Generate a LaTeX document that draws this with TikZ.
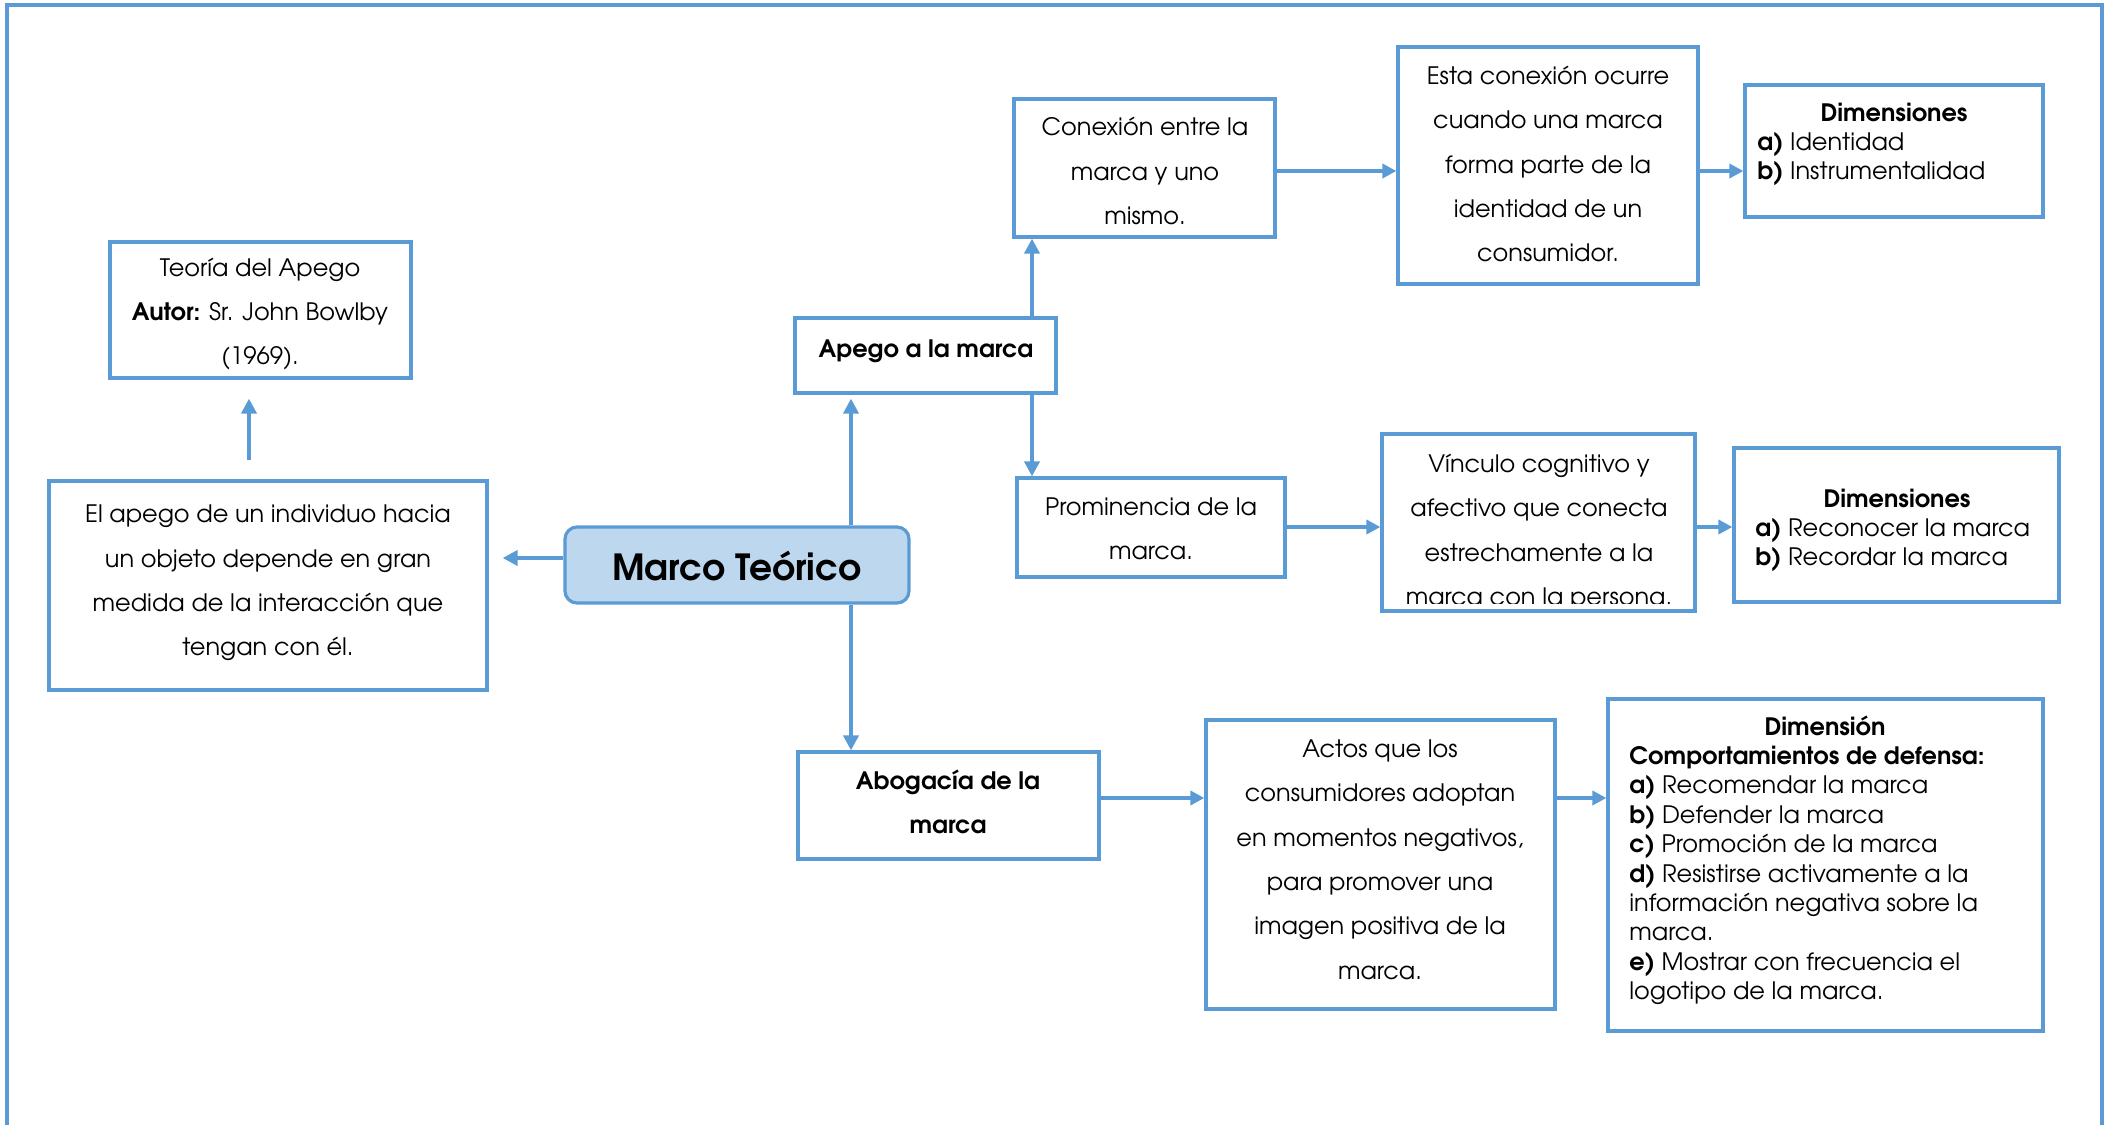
\documentclass[tikz,border=0pt]{standalone}
\usepackage{fontspec}
\setmainfont{texgyreadventor-regular.otf}[BoldFont=texgyreadventor-bold.otf,ItalicFont=texgyreadventor-italic.otf,BoldItalicFont=texgyreadventor-bolditalic.otf]
\usetikzlibrary{arrows.meta,fit}
\definecolor{bl}{HTML}{5B9BD5}
\definecolor{blfill}{HTML}{BDD7EE}
\begin{document}
\begin{tikzpicture}[x=0.5pt,y=-0.5pt,
  box/.style={draw=bl, line width=1.6pt, inner sep=0pt, rectangle},
  txt/.style={align=center, font=\fontsize{12}{22.2}\selectfont, inner sep=0pt},
  lst/.style={anchor=base west, inner sep=0pt, font=\fontsize{12}{14.7}\selectfont},
  ttl/.style={anchor=base, inner sep=0pt, font=\fontsize{12}{14.7}\selectfont\bfseries},
  arr/.style={draw=bl, line width=1.85pt, -{Triangle[length=7.5pt,width=7.5pt]}},
  harr/.style={draw=bl, line width=2.35pt, -{Triangle[length=7pt,width=7pt]}}]
\useasboundingbox (0,0) rectangle (2114,1125);
% outer frame
\draw[bl, line width=2pt] (7,1125) -- (7,5) -- (2102,5) -- (2102,1125);

% boxes
\node[box, fit={(110,242) (411,378)}] (teoria) {};
\node[box, fit={(49,481) (487,690)}] (apegoind) {};
\node[box, fill=blfill, rounded corners=6pt, fit={(565,527) (909,603)}] (marco) {};
\node[box, fit={(795,318) (1056,393)}] (apego) {};
\node[box, fit={(1014,99) (1275,237)}] (conexion) {};
\node[box, fit={(1398,47) (1698,284)}] (esta) {};
\node[box, fit={(1745,85) (2043,217)}] (dim1) {};
\node[box, fit={(1017,478) (1285,577)}] (promin) {};
\node[box, fit={(1382,434) (1695,611)}] (vinculo) {};
\node[box, fit={(1734,448) (2059,602)}] (dim2) {};
\node[box, fit={(798,752) (1099,859)}] (aboga) {};
\node[box, fit={(1206,720) (1555,1009)}] (actos) {};
\node[box, fit={(1608,699) (2043,1031)}] (dim3) {};

% texts
\node[txt] (teoriaT) at (260,314) {Teoría del Apego\\\textbf{Autor:} Sr. John Bowlby\\(1969).};
\node[txt] (apegoindT) at (268,583) {El apego de un individuo hacia\\un objeto depende en gran\\medida de la interacción que\\tengan con él.};
\node[inner sep=0pt, font=\fontsize{18}{22}\selectfont\bfseries] (marcoT) at (737,566) {Marco Teórico};
\node[txt, font=\fontsize{12}{22.2}\selectfont\bfseries] (apegoT) at (926,351) {Apego a la marca};
\node[txt] (conexionT) at (1145,171) {Conexión entre la\\marca y uno\\mismo.};
\node[txt] (estaT) at (1548,164) {Esta conexión ocurre\\cuando una marca\\forma parte de la\\identidad de un\\consumidor.};
\node[ttl] (dim1H) at (1894,121) {Dimensiones};
\node[lst] (dim1L) at (1757,150.5) {\parbox[t]{140pt}{\raggedright\textbf{a)} Identidad\\\textbf{b)} Instrumentalidad}};
\node[txt] (prominT) at (1151,529) {Prominencia de la\\marca.};
\begin{scope}
\clip (1382,434) rectangle (1695,603);
\node[txt] (vinculoT) at (1539,532) {Vínculo cognitivo y\\afectivo que conecta\\estrechamente a la\\marca con la persona.};
\end{scope}
\node[ttl] (dim2H) at (1897,507) {Dimensiones};
\node[lst] (dim2L) at (1755,536) {\parbox[t]{150pt}{\raggedright\textbf{a)} Reconocer la marca\\\textbf{b)} Recordar la marca}};
\node[txt, font=\fontsize{12}{22.2}\selectfont\bfseries] (abogaT) at (948,802) {Abogacía de la\\marca};
\node[txt] (actosT) at (1380,859.5) {Actos que los\\consumidores adoptan\\en momentos negativos,\\para promover una\\imagen positiva de la\\marca.};
\node[ttl] (dim3H) at (1825,735) {Dimensión};
\node[lst] (dim3L) at (1629,764.5) {\parbox[t]{200pt}{\raggedright\textbf{Comportamientos de defensa:}\\\textbf{a)} Recomendar la marca\\\textbf{b)} Defender la marca\\\textbf{c)} Promoción de la marca\\\textbf{d)} Resistirse activamente a la\\información negativa sobre la\\marca.\\\textbf{e)} Mostrar con frecuencia el\\logotipo de la marca.}};

% connectors
\draw[arr, shorten <=9.5pt, shorten >=9.5pt] (apegoind.north -| 249,0) -- (teoria.south -| 249,0);
\draw[arr, shorten >=7pt] (marco.west |- 0,558) -- (apegoind.east |- 0,558);
\draw[arr, shorten >=2pt] (marco.north -| 851,0) -- (apego.south -| 851,0);
\draw[arr] (marco.south -| 851,0) -- (aboga.north -| 851,0);
\draw[arr] (apego.north -| 1032,0) -- (conexion.south -| 1032,0);
\draw[arr] (apego.south -| 1032,0) -- (promin.north -| 1032,0);
\draw[harr] (conexion.east |- 0,171) -- (esta.west |- 0,171);
\draw[harr] (esta.east |- 0,171) -- (dim1.west |- 0,171);
\draw[harr] (promin.east |- 0,527) -- (vinculo.west |- 0,527);
\draw[harr] (vinculo.east |- 0,527) -- (dim2.west |- 0,527);
\draw[harr] (aboga.east |- 0,798) -- (actos.west |- 0,798);
\draw[harr] (actos.east |- 0,798) -- (dim3.west |- 0,798);
\end{tikzpicture}
\end{document}
